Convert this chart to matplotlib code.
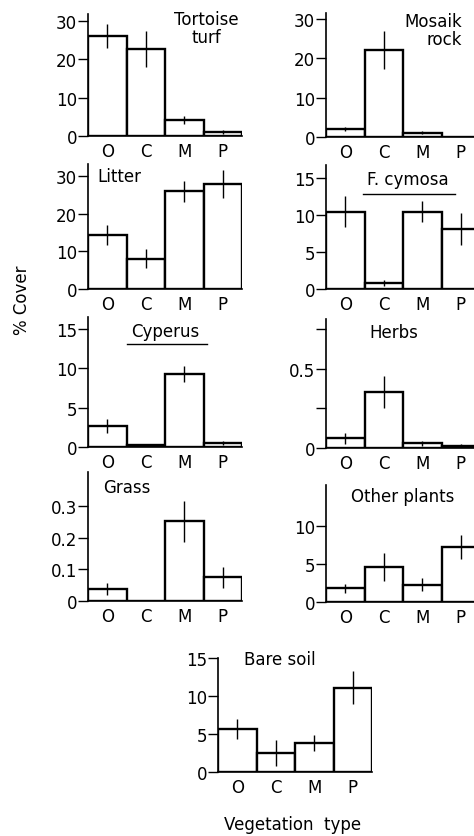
import matplotlib.pyplot as plt
from matplotlib.lines import Line2D

# Data
veg_types = ['O', 'C', 'M', 'P']

tortoise_mean = [26.1, 22.6, 4.2, 1.1]
tortoise_err = [3.2, 4.7, 1.0, 0.5]

mosaik_mean = [2.0, 22.1, 1.1, 0.0]
mosaik_err = [0.6, 4.8, 0.4, 0.0]

litter_mean = [14.4, 8.1, 25.9, 28.0]
litter_err = [2.6, 2.4, 2.9, 3.7]

cymosa_mean = [10.4, 0.8, 10.4, 8.1]
cymosa_err = [2.1, 0.4, 1.4, 2.2]

cyperus_mean = [2.7, 0.3, 9.3, 0.5]
cyperus_err = [0.9, 0.0, 1.0, 0.2]

herbs_mean = [0.063, 0.356, 0.03, 0.015]
herbs_err = [0.035, 0.1, 0.015, 0.01]

grass_mean = [0.038, 0.0, 0.251, 0.075]
grass_err = [0.02, 0.0, 0.065, 0.033]

other_mean = [1.8, 4.6, 2.3, 7.2]
other_err = [0.6, 1.9, 0.8, 1.6]

bare_mean = [5.7, 2.5, 3.8, 11.1]
bare_err = [1.3, 1.7, 1.1, 2.2]

W, H = 474, 837
FS = 12
plt.rcParams['font.family'] = 'DejaVu Sans'
fig = plt.figure(figsize=(W / 100, H / 100), dpi=100)


def panel(x0, y_zero, y_top, top, mean, err, ticks, ticklabels):
    # pixel geometry -> figure fractions
    ax = fig.add_axes([x0 / W, 1 - y_zero / H, 154 / W, (y_zero - y_top) / H])
    xs = range(len(veg_types))
    ax.bar(xs, mean, width=1.0, color='white', edgecolor='black', linewidth=1.7)
    ax.errorbar(xs, mean, yerr=err, fmt='none', ecolor='black', elinewidth=1.0, capsize=0)
    ax.set_xlim(-0.5, 3.5)
    ax.set_ylim(0, top)
    ax.set_xticks(list(xs))
    ax.set_xticklabels(veg_types)
    ax.set_yticks(ticks)
    ax.set_yticklabels(ticklabels)
    ax.tick_params(axis='x', length=0, pad=4, labelsize=FS)
    ax.tick_params(axis='y', length=7, width=1.0, pad=1, labelsize=FS)
    for s in ['top', 'right']:
        ax.spines[s].set_visible(False)
    for s in ['left', 'bottom']:
        ax.spines[s].set_linewidth(1.2)
    return ax


def underline(ax, x1, x2, y):
    ax.add_line(Line2D([x1, x2], [y, y], transform=ax.transAxes,
                       color='black', linewidth=1.0, clip_on=False))


# Row 1
ax = panel(88, 137, 15, 31.8, tortoise_mean, tortoise_err, [0, 10, 20, 30], ['0', '10', '20', '30'])
ax.text(0.77, 0.885, 'Tortoise\nturf', transform=ax.transAxes, ha='center', va='center',
        fontsize=FS, linespacing=1.0)

ax = panel(326, 138, 14, 31.5, mosaik_mean, mosaik_err, [0, 10, 20, 30], ['0', '10', '20', '30'])
ax.text(0.885, 0.865, 'Mosaik\nrock', transform=ax.transAxes, ha='right', va='center',
        fontsize=FS, linespacing=1.0, multialignment='right')

# Row 2
ax = panel(88, 290, 165, 33.2, litter_mean, litter_err, [0, 10, 20, 30], ['0', '10', '20', '30'])
ax.text(0.06, 0.9, 'Litter', transform=ax.transAxes, ha='left', va='center', fontsize=FS)

ax = panel(326, 290, 166, 16.7, cymosa_mean, cymosa_err, [0, 5, 10, 15], ['0', '5', '10', '15'])
ax.text(0.53, 0.89, 'F. cymosa', transform=ax.transAxes, ha='center', va='center', fontsize=FS)
underline(ax, 0.24, 0.84, 0.77)

# Row 3
ax = panel(88, 448, 318, 16.5, cyperus_mean, cyperus_err, [0, 5, 10, 15], ['0', '5', '10', '15'])
ax.text(0.5, 0.89, 'Cyperus', transform=ax.transAxes, ha='center', va='center', fontsize=FS)
underline(ax, 0.25, 0.77, 0.79)

ax = panel(326, 449, 320, 0.816, herbs_mean, herbs_err, [0, 0.25, 0.5, 0.75], ['0', '', '0.5', ''])
ax.text(0.44, 0.9, 'Herbs', transform=ax.transAxes, ha='center', va='center', fontsize=FS)

# Row 4
ax = panel(88, 602, 473, 0.407, grass_mean, grass_err, [0, 0.1, 0.2, 0.3], ['0', '0.1', '0.2', '0.3'])
ax.text(0.1, 0.88, 'Grass', transform=ax.transAxes, ha='left', va='center', fontsize=FS)

ax = panel(326, 603, 486, 15.4, other_mean, other_err, [0, 5, 10], ['0', '5', '10'])
ax.text(0.5, 0.91, 'Other plants', transform=ax.transAxes, ha='center', va='center', fontsize=FS)

# Row 5
ax = panel(218, 773, 659, 15, bare_mean, bare_err, [0, 5, 10, 15], ['0', '5', '10', '15'])
ax.text(0.4, 0.99, 'Bare soil', transform=ax.transAxes, ha='center', va='center', fontsize=FS)

fig.text(22 / W, 1 - 300 / H, '% Cover', rotation=90, ha='center', va='center', fontsize=FS)
fig.text(293 / W, 1 - 825 / H, 'Vegetation  type', ha='center', va='center', fontsize=FS)

fig.savefig('out.png', dpi=100)
